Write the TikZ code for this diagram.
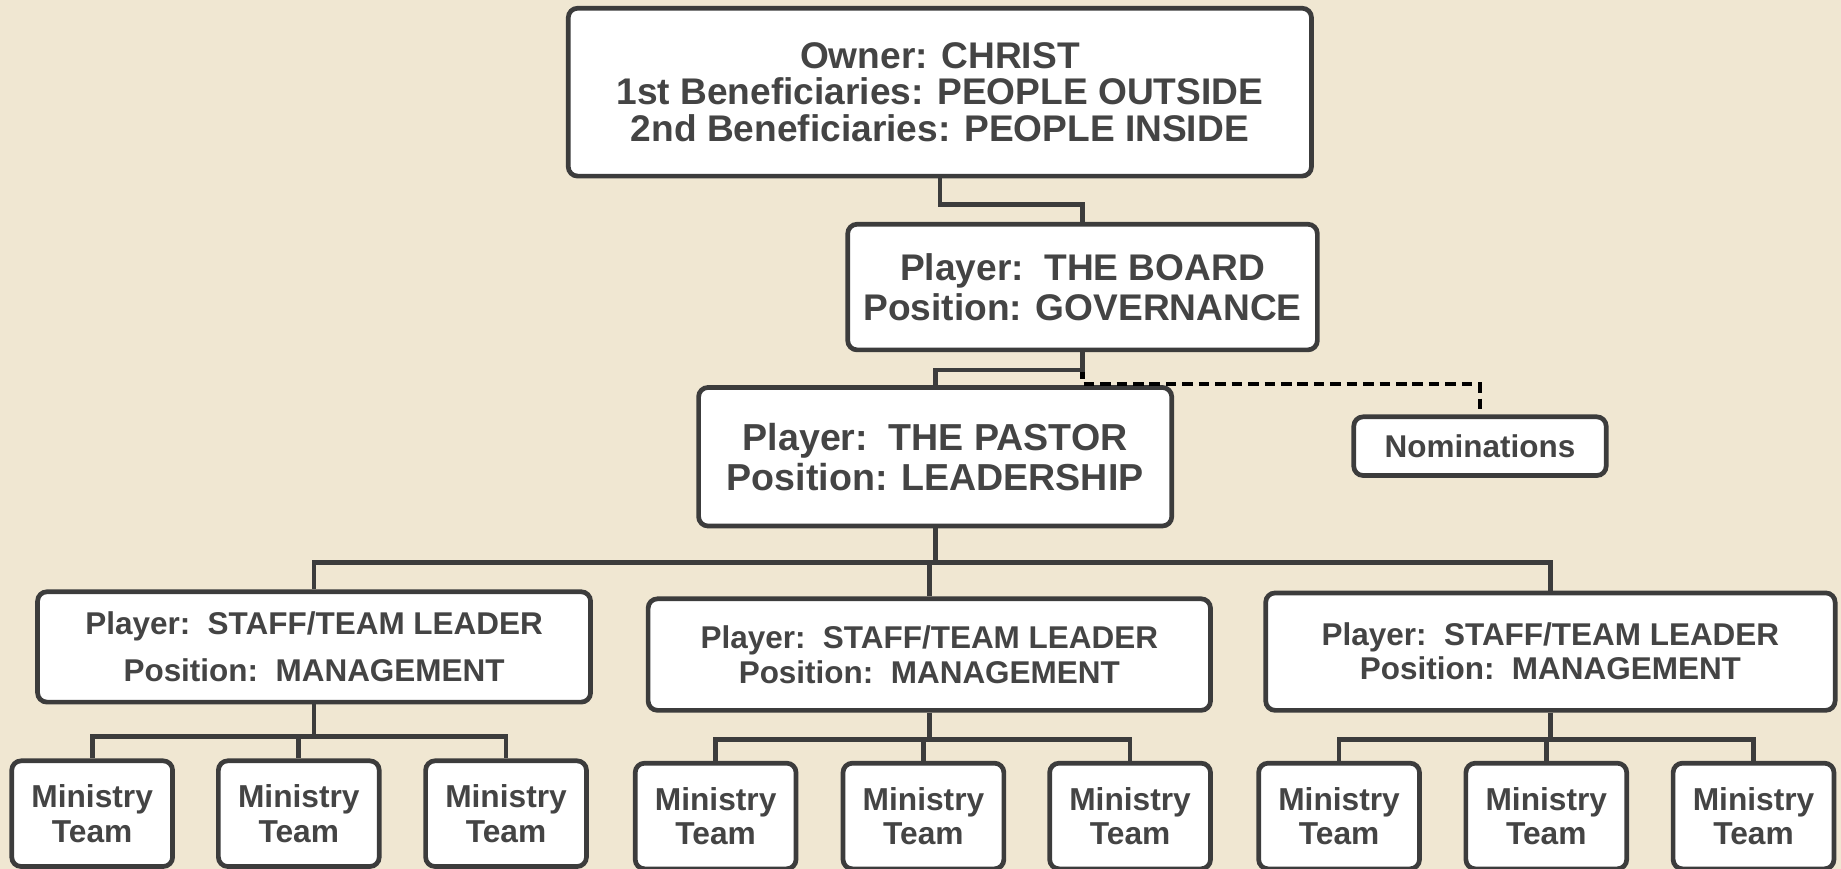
\documentclass[tikz,border=0pt]{standalone}
\usepackage{fontspec}
\setmainfont{Liberation Sans}
\usepackage{tikz}
\definecolor{paper}{RGB}{240,231,210}
\definecolor{ink}{RGB}{68,68,68}
\definecolor{rim}{RGB}{60,60,60}
\tikzstyle{bx} = [rectangle, rounded corners=4pt, draw=rim, fill=white, line width=2pt, align=center, text=ink, inner sep=0pt]
\tikzstyle{mt} = [bx, minimum width=68.5pt, minimum height=45pt, font=\fontsize{13.5pt}{14.5pt}\selectfont\bfseries]
\tikzstyle{ln} = [draw=rim, line width=2pt]
\tikzstyle{dl} = [draw=black, line width=2pt, dash pattern=on 4.5pt off 2.5pt]

\begin{document}
\begin{tikzpicture}[x=0.5pt, y=-0.5pt]
		\fill[paper] (0,0) rectangle (1568,740);
		\useasboundingbox (0,0) rectangle (1568,740);

		% top of the chart
		\node[bx, minimum width=316.5pt, minimum height=71.5pt, font=\fontsize{15.8pt}{15.5pt}\selectfont\bfseries] (own) at (800.5,78.5)
			{Owner: CHRIST\\1st Beneficiaries: PEOPLE OUTSIDE\\2nd Beneficiaries: PEOPLE INSIDE};
		\node[bx, minimum width=200pt, minimum height=53.5pt, font=\fontsize{15.8pt}{17pt}\selectfont\bfseries] (brd) at (922,244.5)
			{Player:\ \ THE BOARD\\Position: GOVERNANCE};
		\node[bx, minimum width=201.5pt, minimum height=59pt, font=\fontsize{16pt}{17pt}\selectfont\bfseries] (pst) at (796.5,389)
			{Player:\ \ THE PASTOR\\Position: LEADERSHIP};
		\node[bx, minimum width=107.5pt, minimum height=25pt, font=\fontsize{13.4pt}{14pt}\selectfont\bfseries] (nom) at (1260.5,380)
			{Nominations};

		% staff / team leaders
		\node[bx, minimum width=235.5pt, minimum height=47pt, font=\fontsize{13.4pt}{20pt}\selectfont\bfseries] (st1) at (267.5,551)
			{Player:\ \ STAFF/TEAM LEADER\\Position:\ \ MANAGEMENT};
		\node[bx, minimum width=239.5pt, minimum height=47.5pt, font=\fontsize{13.4pt}{15pt}\selectfont\bfseries] (st2) at (791.5,557.5)
			{Player:\ \ STAFF/TEAM LEADER\\Position:\ \ MANAGEMENT};
		\node[bx, minimum width=242.5pt, minimum height=50pt, font=\fontsize{13.4pt}{14.5pt}\selectfont\bfseries] (st3) at (1320.5,555)
			{Player:\ \ STAFF/TEAM LEADER\\Position:\ \ MANAGEMENT};

		% ministry teams
		\node[mt] (t11) at (78.5,693) {Ministry\\Team};
		\node[mt] (t12) at (254.5,693) {Ministry\\Team};
		\node[mt] (t13) at (431,693) {Ministry\\Team};
		\node[mt] (t21) at (609.5,695) {Ministry\\Team};
		\node[mt] (t22) at (786.5,695) {Ministry\\Team};
		\node[mt] (t23) at (962.5,695) {Ministry\\Team};
		\node[mt] (t31) at (1140.5,695) {Ministry\\Team};
		\node[mt] (t32) at (1317,695) {Ministry\\Team};
		\node[mt] (t33) at (1493.5,695) {Ministry\\Team};

		% connectors
		\draw[dl] (brd.south) -- ++(0,27) -| (nom.north);
		\draw[ln] (own.south) -- ++(0,22) -| (brd.north);
		\draw[ln] (brd.south) -- ++(0,15) -| (pst.north);
		\draw[ln] (pst.south) -- ++(0,29) coordinate (j0) -| (st1.north) (j0) -| (st2.north) (j0) -| (st3.north);
		\draw[ln] (st1.south) -- ++(0,27) coordinate (j1) -| (t11.north) (j1) -| (t12.north) (j1) -| (t13.north);
		\draw[ln] (st2.south) -- ++(0,23) coordinate (j2) -| (t21.north) (j2) -| (t22.north) (j2) -| (t23.north);
		\draw[ln] (st3.south) -- ++(0,23) coordinate (j3) -| (t31.north) (j3) -| (t32.north) (j3) -| (t33.north);
	\end{tikzpicture}
\end{document}
